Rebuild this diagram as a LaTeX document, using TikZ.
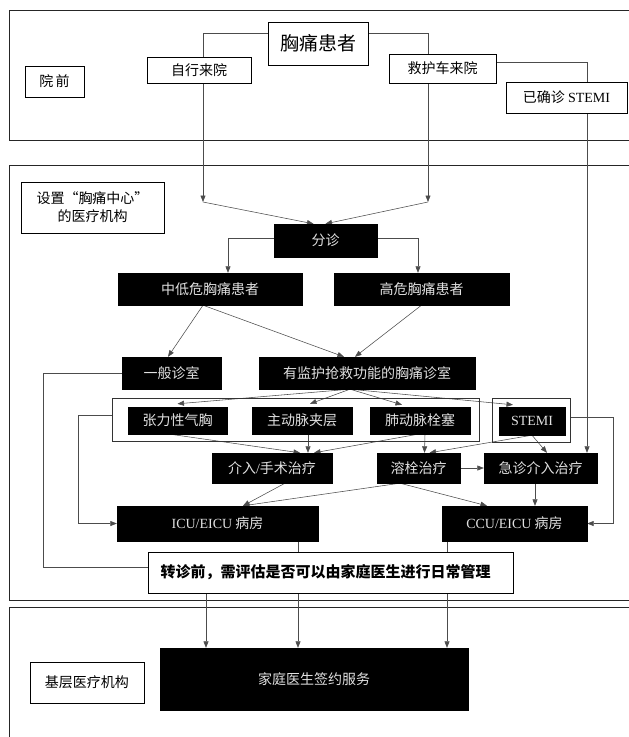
\documentclass[tikz,border=0pt]{standalone}
\usepackage{fontspec}
\setmainfont{Liberation Serif}
\newfontfamily\cjk{Noto Sans CJK SC}
\usetikzlibrary{arrows.meta}
\pgfdeclarelayer{bg}
\pgfsetlayers{bg,main}
\begin{document}
\begin{tikzpicture}[x=1pt,y=-1pt,
  wbox/.style={draw=black, line width=0.8pt, fill=white, inner sep=0pt, font=\cjk\fontsize{14}{18}\selectfont, text=black},
  dbox/.style={draw=black, fill=black, inner sep=0pt, font=\cjk\fontsize{14}{18}\selectfont, text=black!12},
  obox/.style={draw=black!80, line width=0.7pt, inner sep=0pt},
  secbox/.style={draw=black!85, line width=0.9pt},
  conn/.style={draw=black!70, line width=0.55pt},
  arr/.style={conn, -{Triangle[length=6.5pt,width=5pt]}}]
\useasboundingbox (0,0) rectangle (629,737);

% ---- section 1: pre-hospital
\node[wbox, minimum width=59pt, minimum height=31pt] (yq) at (54.5,81.5) {院\,前};
\node[wbox, minimum width=100pt, minimum height=43pt, font=\cjk\fontsize{19}{22}\selectfont] (pat) at (318,43.5) {胸痛患者};
\node[wbox, minimum width=104pt, minimum height=26pt] (slf) at (199,70) {自行来院};
\node[wbox, minimum width=107pt, minimum height=29pt] (amb) at (442.5,68.5) {救护车来院};
\node[wbox, minimum width=121pt, minimum height=31pt] (st0) at (566.5,97.5) {已确诊 {\rmfamily STEMI}};

% ---- section 2: chest pain centre
\node[wbox, minimum width=143pt, minimum height=51pt, align=center] (ctr) at (92.5,207.5) {设置“胸痛中心”\\的医疗机构};
\node[dbox, minimum width=103pt, minimum height=33pt] (tri) at (325.5,240.5) {分诊};
\node[dbox, minimum width=184pt, minimum height=32pt] (low) at (210,289) {中低危胸痛患者};
\node[dbox, minimum width=175pt, minimum height=32pt] (high) at (421.5,289) {高危胸痛患者};
\node[dbox, minimum width=99pt, minimum height=32pt] (gen) at (171.5,373) {一般诊室};
\node[dbox, minimum width=216pt, minimum height=32pt] (mon) at (367,373) {有监护抢救功能的胸痛诊室};
\node[obox, minimum width=367pt, minimum height=43pt] (grp) at (295.5,419.5) {};
\node[obox, minimum width=78pt, minimum height=44pt] (sto) at (531.5,420) {};
\node[dbox, minimum width=99pt, minimum height=27pt] (ten) at (177.5,420.5) {张力性气胸};
\node[dbox, minimum width=100pt, minimum height=27pt] (aor) at (302,420.5) {主动脉夹层};
\node[dbox, minimum width=100pt, minimum height=27pt] (pul) at (420,420.5) {肺动脉栓塞};
\node[dbox, minimum width=66pt, minimum height=28pt] (stm) at (532,421) {\rmfamily STEMI};
\node[dbox, minimum width=120pt, minimum height=30pt] (itv) at (272,468) {介入{\rmfamily /}手术治疗};
\node[dbox, minimum width=83pt, minimum height=30pt] (thr) at (418.5,468) {溶栓治疗};
\node[dbox, minimum width=113pt, minimum height=30pt] (pci) at (540.5,468) {急诊介入治疗};
\node[dbox, minimum width=201pt, minimum height=35pt] (icu) at (217.5,523.5) {{\rmfamily ICU/EICU} 病房};
\node[dbox, minimum width=145pt, minimum height=35pt] (ccu) at (514.5,523.5) {{\rmfamily CCU/EICU} 病房};
\node[wbox, minimum width=365pt, minimum height=41pt, font=\cjk\bfseries\fontsize{15}{18}\selectfont] (trf) at (330.5,572.5) {转诊前，需评估是否可以由家庭医生进行日常管理\hspace*{10pt}};

% ---- section 3: primary care
\node[wbox, minimum width=114pt, minimum height=41pt] (bas) at (87,682.5) {基层医疗机构};
\node[dbox, minimum width=308pt, minimum height=62pt] (fam) at (314,679) {家庭医生签约服务};

\begin{pgfonlayer}{bg}
\draw[secbox] (9,10) rectangle (640,140);
\draw[secbox] (9,165) rectangle (640,600);
\draw[secbox] (9,607) rectangle (640,745);

% patient to the centre
\coordinate (s1) at (203,202);
\coordinate (s2) at (428,202);
\draw[arr] ([yshift=10pt]pat.west) -| (s1);
\draw[arr] ([yshift=10pt]pat.east) -| (s2);
\draw[arr] (s1) -- ([xshift=-12pt]tri.north);
\draw[arr] (s2) -- (tri.north);

% ambulance to confirmed STEMI and on to PCI
\coordinate (a1) at ([xshift=20.5pt]st0.north);
\draw[conn] ([yshift=6.5pt]amb.east) -| (a1);
\coordinate (a2) at ([xshift=20.5pt]st0.south);
\draw[arr] (a2) -- (a2 |- pci.north);

% triage
\coordinate (t1) at ([xshift=18pt]low.north);
\draw[arr] ([yshift=2.5pt]tri.west) -| (t1);
\coordinate (t2) at ([xshift=-3.5pt]high.north);
\draw[arr] ([yshift=2.5pt]tri.east) -| (t2);

% risk groups to rooms
\draw[arr] ([xshift=-7pt]low.south) -- ([xshift=-3.5pt]gen.north);
\draw[arr] ([xshift=-7pt]low.south) -- ([xshift=-23pt]mon.north);
\draw[arr] (high.south) -- ([xshift=-12pt]mon.north);

% general room to transfer assessment
\coordinate (g1) at (43,373);
\draw[conn] (gen.west) -- (g1) |- ([yshift=5.5pt]trf.west);

% group to ICU, STEMI to CCU
\coordinate (g2) at (78,415);
\draw[arr] ([yshift=4.5pt]grp.west) -- (g2) |- (icu.west);
\coordinate (g3) at (613,417);
\draw[arr] ([yshift=3pt]sto.east) -- (g3) |- (ccu.east);

% monitored room fan-out
\coordinate (m0) at ([xshift=-17pt]mon.south);
\draw[arr] (m0) -- ([yshift=3pt]ten.north);
\draw[arr] (m0) -- ([xshift=8pt,yshift=3pt]aor.north);
\draw[arr] (m0) -- ([xshift=-18pt,yshift=2pt]pul.north);
\draw[arr] (m0) -- ([xshift=-19pt,yshift=2pt]stm.north);

% into intervention / surgery
\draw[arr] ([xshift=-7.5pt]ten.south) -- ([xshift=28pt]itv.north);
\coordinate (ao) at ([xshift=6pt]aor.south);
\draw[arr] (ao) -- (ao |- itv.north);
\draw[arr] ([xshift=-2pt]pul.south) -- ([xshift=42pt]itv.north);

% thrombolysis and PCI
\draw[arr] ([xshift=5pt]pul.south) -- ([xshift=6pt]thr.north);
\draw[arr] (stm.south) -- ([xshift=11pt]thr.north);
\draw[arr] (stm.south) -- ([xshift=6.5pt]pci.north);
\draw[arr] (thr.east) -- (pci.west);

% to wards
\draw[arr] ([xshift=13pt]itv.south) -- ([xshift=25.5pt]icu.north);
\draw[arr] ([xshift=-18.5pt]thr.south) -- ([xshift=25.5pt]icu.north);
\draw[arr] ([xshift=-18.5pt]thr.south) -- ([xshift=-27.5pt]ccu.north);
\coordinate (p1) at ([xshift=-5.5pt]pci.south);
\draw[arr] (p1) -- (p1 |- ccu.north);

% to family doctor service
\coordinate (f1) at ([xshift=-124.5pt]trf.south);
\draw[arr] (f1) -- (f1 |- fam.north);
\coordinate (f2) at ([xshift=80.5pt]icu.south);
\draw[arr] (f2) -- (f2 |- fam.north);
\coordinate (f3) at ([xshift=-67.5pt]ccu.south);
\draw[arr] (f3) -- (f3 |- fam.north);
\end{pgfonlayer}
\end{tikzpicture}
\end{document}
